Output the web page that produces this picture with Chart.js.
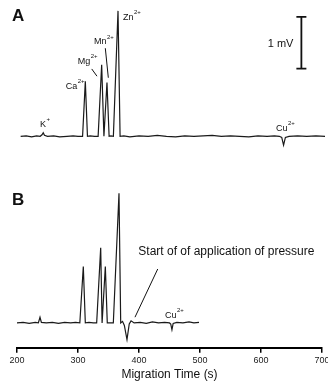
<!DOCTYPE html>
<html>
<head>
<meta charset="utf-8">
<script src="https://cdn.jsdelivr.net/npm/chart.js@4.4.1/dist/chart.umd.min.js"></script>
<style>
  html, body { margin: 0; padding: 0; background: #fff; overflow: hidden; }
  #wrap { position: relative; width: 335px; height: 385px; }
</style>
</head>
<body>
<div id="wrap"><canvas id="chart"></canvas></div>
<script>
// electropherogram A (full run), signal in mV above its own baseline
const timesA = [206, 215, 224, 232, 238, 241, 243, 245, 250, 260,
  270, 282, 292, 300, 307.5, 312, 315.5, 320, 327, 333,
  338.8, 342.5, 347.5, 351, 354, 358, 365.6, 369, 375, 385,
  400, 415, 430, 445, 460, 475, 490, 505, 520, 535,
  550, 565, 580, 595, 610, 622, 630, 634, 637, 640,
  646, 660, 675, 690, 705];
const signalA = [0, 0.01, -0.01, 0.01, 0, 0.03, 0.07, 0.02, 0, 0.01,
  -0.01, 0, 0.01, 0, 0, 1.06, 0, 0.01, 0, 0,
  1.38, 0, 1.04, 0, 0.01, 0, 2.42, 0, 0.01, -0.01,
  0.01, 0, 0.02, 0, -0.01, 0.01, 0, 0.01, 0.02, 0,
  0.01, 0, -0.01, 0.01, 0, 0.01, 0, -0.02, -0.17, -0.02,
  0, 0.01, 0, 0.01, 0];

// electropherogram B (pressure applied), signal in mV
const timesB = [200, 210, 220, 230, 235, 237.7, 240, 248, 258, 268,
  278, 288, 296, 303, 308.7, 312, 318, 325, 330.6, 337.2,
  339.5, 344.8, 348, 353, 357.9, 367.2, 370, 373, 376, 380.3,
  384, 387, 392, 402, 412, 422, 432, 442, 450, 452,
  454, 456, 462, 472, 482, 490, 498.4];
const signalB = [0, 0.01, -0.01, 0.01, 0, 0.11, 0.01, 0, 0.01, -0.01,
  0.01, 0, 0.01, 0, 1.09, 0, 0.01, 0, 0, 1.45,
  0, 1.09, 0, 0, 0, 2.5, 0, 0.03, -0.05, -0.32,
  -0.02, 0.04, 0, 0.01, -0.01, 0.02, 0, 0.01, 0, -0.02,
  -0.13, -0.01, 0.01, 0, 0.02, 0, 0.01];

const xTicks = [200, 300, 400, 500, 600, 700];
const offsetA = 3.6; // trace A is stacked above trace B

const FONT = '"Liberation Sans", Arial, sans-serif';

// ion labels: text, superscript, time, mV (in stacked units)
const ionLabels = [
  ['K', '+', 237.7, 3.83],
  ['Ca', '2+', 279.8, 4.56],
  ['Mg', '2+', 299.5, 5.04],
  ['Mn', '2+', 326.2, 5.42],
  ['Zn', '2+', 373.8, 5.90],
  ['Cu', '2+', 624.6, 3.75],
  ['Cu', '2+', 442.6, 0.14]
];

const annotations = {
  id: 'annotations',
  afterDatasetsDraw(chart) {
    const ctx = chart.ctx;
    const xs = chart.scales.x, ys = chart.scales.y;
    const px = t => xs.getPixelForValue(t);
    const py = v => ys.getPixelForValue(v);
    ctx.save();
    ctx.fillStyle = '#111';
    ctx.strokeStyle = '#111';
    ctx.textBaseline = 'middle';
    ctx.textAlign = 'left';

    ctx.font = 'bold 17px ' + FONT;
    ctx.fillText('A', px(191.8), py(5.92));
    ctx.fillText('B', px(191.8), py(2.37));

    ionLabels.forEach(([base, sup, t, v]) => {
      ctx.font = '9px ' + FONT;
      ctx.fillText(base, px(t), py(v));
      const w = ctx.measureText(base).width;
      ctx.font = '6px ' + FONT;
      ctx.fillText(sup, px(t) + w + 0.5, py(v) - 5);
    });

    // leader lines
    ctx.lineWidth = 1;
    const seg = (t1, v1, t2, v2) => {
      ctx.beginPath();
      ctx.moveTo(px(t1), py(v1));
      ctx.lineTo(px(t2), py(v2));
      ctx.stroke();
    };
    seg(322.5, 4.90, 331.1, 4.76);
    seg(344.8, 5.30, 349.7, 4.73);
    seg(430.7, 1.04, 393.4, 0.11);

    ctx.font = '12px ' + FONT;
    ctx.fillText('Start of of application of pressure', px(398.9), py(1.37));

    // 1 mV scale bar
    ctx.lineWidth = 1.8;
    const bx = px(666.2);
    ctx.beginPath();
    ctx.moveTo(bx, py(4.905));
    ctx.lineTo(bx, py(5.905));
    ctx.moveTo(bx - 5, py(4.905));
    ctx.lineTo(bx + 5, py(4.905));
    ctx.moveTo(bx - 5, py(5.905));
    ctx.lineTo(bx + 5, py(5.905));
    ctx.stroke();
    ctx.font = '11px ' + FONT;
    ctx.textAlign = 'right';
    ctx.fillText('1 mV', bx - 8, py(5.385));
    ctx.restore();
  }
};

new Chart(document.getElementById('chart'), {
  type: 'line',
  data: {
    datasets: [{
      data: timesA.map((t, i) => ({ x: t, y: signalA[i] + offsetA })),
      borderColor: '#1a1a1a',
      borderWidth: 1.2,
      pointRadius: 0,
      tension: 0,
      clip: false
    }, {
      data: timesB.map((t, i) => ({ x: t, y: signalB[i] })),
      borderColor: '#1a1a1a',
      borderWidth: 1.2,
      pointRadius: 0,
      tension: 0,
      clip: false
    }]
  },
  options: {
    responsive: true,
    maintainAspectRatio: false,
    animation: false,
    layout: { padding: { left: 17, right: 13, top: 0, bottom: 2 } },
    plugins: { legend: { display: false }, tooltip: { enabled: false } },
    scales: {
      x: {
        type: 'linear',
        min: 200,
        max: 700,
        afterBuildTicks: scale => { scale.ticks = xTicks.map(v => ({ value: v })); },
        border: { display: true, color: '#000', width: 2 },
        grid: { drawOnChartArea: false, drawTicks: true, tickLength: 5, color: '#000', lineWidth: 1.5 },
        ticks: { color: '#222', padding: 2, maxRotation: 0, font: { family: FONT, size: 9 } },
        title: {
          display: true,
          text: 'Migration Time (s)',
          color: '#111',
          padding: { top: 0, bottom: 1 },
          font: { family: FONT, size: 12 }
        }
      },
      y: {
        display: false,
        min: -0.48,
        max: 6.23
      }
    }
  },
  plugins: [annotations]
});
</script>
</body>
</html>
